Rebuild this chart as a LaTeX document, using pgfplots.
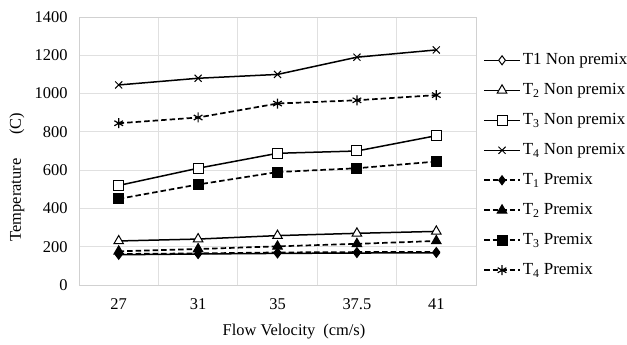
\documentclass[border=0pt]{standalone}
\usepackage{fontspec}
\setmainfont{Liberation Serif}
\usepackage{pgfplots}
\pgfplotsset{compat=1.18}
\begin{document}
\fontsize{16}{19}\selectfont
\begin{tikzpicture}[x=1bp,y=1bp]
\path[use as bounding box] (0,0) rectangle (627,344);
\begin{axis}[
  at={(79bp,59bp)}, anchor=south west,
  scale only axis, width=397bp, height=268bp,
  xmin=-0.5, xmax=4.5, ymin=0, ymax=1400,
  xtick={0,1,2,3,4}, xticklabels={27,31,35,37.5,41},
  minor xtick={-0.5,0.5,1.5,2.5,3.5,4.5},
  ytick={0,200,...,1400},
  xminorgrids, ymajorgrids,
  grid style={draw=black!12, line width=0.8bp},
  minor grid style={draw=black!12, line width=0.8bp},
  axis line style={draw=black!18, line width=0.8bp},
  major tick length=0pt, minor tick length=0pt,
  tick label style={font=\fontsize{16.5}{19}\selectfont},
  /pgf/number format/assume math mode=true,
  /pgf/number format/1000 sep={},
  yticklabel style={xshift=-6bp},
  xticklabel style={yshift=-8bp},
  clip=false,
  legend style={at={(1.0176,0.872)}, anchor=north west, draw=none, fill=none,
    font=\fontsize{17}{19}\selectfont, row sep=12.4bp, inner sep=0pt},
  legend cell align=left,
  legend image code/.code={\draw[mark repeat=2,mark phase=2,#1] plot coordinates {(0bp,0bp) (18bp,0bp) (36bp,0bp)};},
  every axis plot/.append style={line width=1.5bp, black},
]
\pgfplotstableread{
x T1n T2n T3n T4n T1p T2p T3p T4p
0 158 230 520 1045 162 176 450 845
1 162 240 610 1080 165 188 525 875
2 165 258 688 1100 170 202 590 948
3 167 270 700 1190 172 215 610 965
4 168 280 780 1228 172 230 645 992
}\data
\addplot[solid, mark=diamond*, mark options={fill=white, solid, line width=1bp}, mark size=4.5bp] table[x=x,y=T1n]{\data};
\addlegendentry{T1 Non premix}
\addplot[solid, mark=triangle*, mark options={fill=white, solid, line width=1bp}, mark size=5.5bp] table[x=x,y=T2n]{\data};
\addlegendentry{T\textsubscript{2} Non premix}
\addplot[solid, mark=square*, mark options={fill=white, solid, line width=1bp}, mark size=5bp] table[x=x,y=T3n]{\data};
\addlegendentry{T\textsubscript{3} Non premix}
\addplot[solid, mark=x, mark options={solid, line width=1bp}, mark size=5bp] table[x=x,y=T4n]{\data};
\addlegendentry{T\textsubscript{4} Non premix}
\addplot[line width=1.7bp, dash pattern=on 5.5bp off 3bp, mark=diamond*, mark options={fill=black, solid, line width=1bp}, mark size=4.5bp] table[x=x,y=T1p]{\data};
\addlegendentry{T\textsubscript{1} Premix}
\addplot[line width=1.7bp, dash pattern=on 5.5bp off 3bp, mark=triangle*, mark options={fill=black, solid, line width=1bp}, mark size=5.5bp] table[x=x,y=T2p]{\data};
\addlegendentry{T\textsubscript{2} Premix}
\addplot[line width=1.7bp, dash pattern=on 5.5bp off 3bp, mark=square*, mark options={fill=black, solid, line width=1bp}, mark size=5bp] table[x=x,y=T3p]{\data};
\addlegendentry{T\textsubscript{3} Premix}
\addplot[line width=1.7bp, dash pattern=on 5.5bp off 3bp, mark=asterisk, mark options={solid, line width=1.2bp}, mark size=5bp] table[x=x,y=T4p]{\data};
\addlegendentry{T\textsubscript{4} Premix}
\end{axis}
\node[rotate=90, inner sep=0pt, font=\fontsize{16.5}{19}\selectfont] at (17,167) {Temperature\hspace{24bp}(C)};
\node[inner sep=0pt, font=\fontsize{16.5}{19}\selectfont] at (294,12) {Flow Velocity\hspace{8bp}(cm/s)};
\end{tikzpicture}
\end{document}
